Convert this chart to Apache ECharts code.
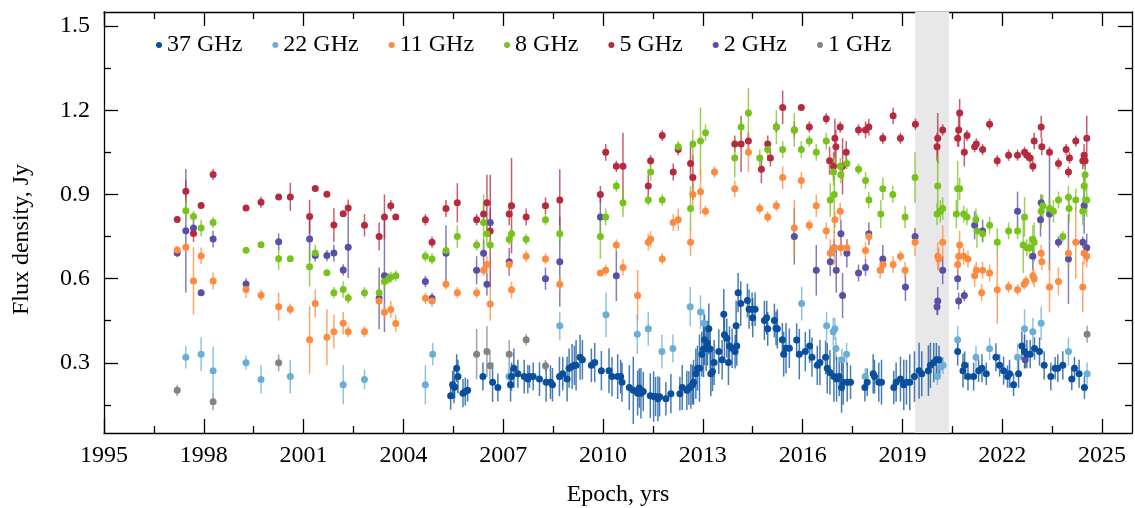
<!DOCTYPE html>
<html><head><meta charset="utf-8">
<script src="https://cdn.jsdelivr.net/npm/echarts@6/dist/echarts.min.js"></script>
<style>html,body{margin:0;padding:0;background:#fff}#c{width:1135px;height:508px}</style>
</head><body><div id="c"></div>
<script>
// ---------- ticks ----------
const xMajorTicks = [1995,1998,2001,2004,2007,2010,2013,2016,2019,2022,2025];
const xMinorTicks = [1996.5,1999.5,2002.5,2005.5,2008.5,2011.5,2014.5,2017.5,2020.5,2023.5];
const yMajorTicks = [0.3,0.6,0.9,1.2,1.5];
const yMinorTicks = [0.15,0.45,0.75,1.05,1.35];
const band = [2019.38, 2020.4];
const seriesNames = ['37 GHz','22 GHz','11 GHz','8 GHz','5 GHz','2 GHz','1 GHz'];

// ---------- data: [epoch, flux (Jy), error (Jy)] ----------
const f37 = [
[2005.42,0.183,0.05],[2005.48,0.222,0.05],[2005.52,0.216,0.06],[2005.54,0.213,0.04],[2005.60,0.281,0.05],[2005.64,0.251,0.06],
[2005.79,0.192,0.05],[2005.86,0.198,0.05],[2005.93,0.202,0.04],[2006.39,0.251,0.05],[2006.68,0.231,0.07],[2006.84,0.212,0.05],
[2007.22,0.222,0.06],[2007.25,0.251,0.05],[2007.32,0.281,0.07],[2007.44,0.261,0.05],[2007.63,0.251,0.06],[2007.74,0.242,0.05],
[2007.79,0.251,0.04],[2007.90,0.251,0.05],[2008.09,0.242,0.06],[2008.29,0.231,0.07],[2008.42,0.231,0.06],[2008.48,0.222,0.06],
[2008.69,0.251,0.07],[2008.79,0.261,0.06],[2008.92,0.242,0.08],[2008.98,0.281,0.07],[2009.07,0.287,0.08],[2009.14,0.291,0.07],
[2009.19,0.291,0.09],[2009.31,0.320,0.08],[2009.38,0.311,0.07],[2009.65,0.291,0.06],[2009.75,0.301,0.07],[2009.95,0.272,0.07],
[2010.18,0.272,0.08],[2010.27,0.251,0.07],[2010.44,0.251,0.08],[2010.53,0.251,0.06],[2010.57,0.231,0.07],[2010.79,0.212,0.08],
[2010.91,0.202,0.12],[2011.04,0.192,0.08],[2011.09,0.210,0.07],[2011.14,0.192,0.09],[2011.21,0.198,0.07],[2011.42,0.183,0.08],
[2011.52,0.180,0.09],[2011.58,0.180,0.07],[2011.65,0.172,0.08],[2011.70,0.179,0.07],[2011.89,0.172,0.06],[2012.04,0.190,0.07],
[2012.31,0.190,0.06],[2012.38,0.212,0.08],[2012.52,0.202,0.07],[2012.58,0.210,0.06],[2012.64,0.216,0.08],[2012.69,0.222,0.07],
[2012.72,0.231,0.08],[2012.79,0.261,0.09],[2012.84,0.281,0.08],[2012.90,0.281,0.12],[2012.97,0.331,0.08],[2013.02,0.349,0.10],
[2013.05,0.382,0.09],[2013.10,0.351,0.08],[2013.14,0.370,0.08],[2013.18,0.421,0.09],[2013.22,0.349,0.07],[2013.24,0.261,0.08],
[2013.29,0.269,0.07],[2013.34,0.301,0.08],[2013.48,0.340,0.08],[2013.58,0.311,0.07],[2013.63,0.473,0.09],[2013.65,0.400,0.08],
[2013.72,0.388,0.07],[2013.77,0.301,0.08],[2013.80,0.360,0.07],[2013.88,0.352,0.07],[2013.97,0.340,0.06],[2014.00,0.432,0.09],
[2014.02,0.360,0.07],[2014.06,0.550,0.07],[2014.14,0.511,0.08],[2014.34,0.522,0.06],[2014.39,0.491,0.07],[2014.48,0.491,0.06],
[2014.50,0.461,0.07],[2014.57,0.491,0.06],[2014.85,0.451,0.07],[2014.92,0.461,0.06],[2014.95,0.421,0.06],[2015.15,0.451,0.06],
[2015.20,0.423,0.06],[2015.24,0.421,0.07],[2015.39,0.382,0.06],[2015.43,0.331,0.08],[2015.50,0.352,0.09],[2015.60,0.352,0.07],
[2015.82,0.381,0.06],[2015.90,0.331,0.09],[2016.08,0.340,0.07],[2016.21,0.360,0.06],[2016.28,0.320,0.07],[2016.44,0.291,0.07],
[2016.52,0.301,0.08],[2016.69,0.320,0.06],[2016.74,0.281,0.09],[2016.82,0.266,0.08],[2016.94,0.251,0.09],[2017.02,0.242,0.08],
[2017.10,0.251,0.07],[2017.17,0.212,0.09],[2017.22,0.231,0.08],[2017.34,0.231,0.07],[2017.44,0.231,0.06],[2017.87,0.212,0.05],
[2017.94,0.231,0.05],[2018.12,0.261,0.07],[2018.16,0.251,0.06],[2018.29,0.231,0.07],[2018.37,0.231,0.08],[2018.74,0.212,0.06],
[2018.81,0.231,0.07],[2018.94,0.242,0.08],[2019.04,0.222,0.09],[2019.12,0.231,0.08],[2019.22,0.231,0.10],[2019.36,0.251,0.09],
[2019.50,0.272,0.10],[2019.58,0.261,0.08],[2019.78,0.272,0.09],[2019.84,0.291,0.08],[2019.94,0.301,0.07],[2020.02,0.311,0.06],
[2020.10,0.311,0.05],[2020.66,0.340,0.05],[2020.82,0.272,0.06],[2020.87,0.291,0.05],[2020.97,0.251,0.05],[2021.14,0.251,0.05],
[2021.29,0.272,0.04],[2021.39,0.281,0.05],[2021.52,0.261,0.04],[2021.81,0.320,0.05],[2021.92,0.291,0.04],[2022.04,0.272,0.05],
[2022.16,0.251,0.04],[2022.22,0.261,0.05],[2022.34,0.222,0.04],[2022.49,0.261,0.05],[2022.59,0.360,0.05],[2022.67,0.340,0.06],
[2022.74,0.331,0.05],[2022.84,0.331,0.05],[2022.97,0.351,0.04],[2023.12,0.340,0.05],[2023.26,0.291,0.05],[2023.46,0.251,0.05],
[2023.59,0.281,0.04],[2023.67,0.281,0.05],[2023.82,0.291,0.05],[2024.09,0.242,0.04],[2024.17,0.281,0.04],[2024.31,0.261,0.05],
[2024.47,0.212,0.04]
];
const f22 = [
[1997.46,0.320,0.04],[1997.92,0.331,0.06],[1998.28,0.272,0.085],[1999.27,0.300,0.025],[1999.72,0.241,0.05],[2000.60,0.251,0.06],
[2002.19,0.222,0.07],[2002.83,0.241,0.035],[2004.66,0.222,0.07],[2004.88,0.331,0.04],[2007.17,0.251,0.03],[2008.70,0.432,0.05],
[2010.09,0.471,0.08],[2011.03,0.402,0.07],[2011.36,0.421,0.06],[2011.77,0.340,0.06],[2012.10,0.351,0.05],[2012.62,0.500,0.07],
[2012.93,0.481,0.06],[2013.03,0.441,0.05],[2015.97,0.511,0.06],[2016.72,0.432,0.05],[2016.92,0.411,0.05],[2016.97,0.421,0.04],
[2017.00,0.351,0.04],[2017.18,0.310,0.04],[2017.32,0.331,0.04],[2017.88,0.251,0.03],[2020.05,0.251,0.03],[2020.14,0.285,0.03],
[2020.22,0.291,0.03],[2020.66,0.382,0.05],[2021.21,0.320,0.04],[2021.62,0.350,0.04],[2022.46,0.320,0.05],[2022.67,0.421,0.07],
[2022.92,0.411,0.05],[2023.17,0.441,0.06],[2023.99,0.340,0.05],[2024.55,0.261,0.04]
];
const f11 = [
[1997.20,0.702,0.015],[1997.46,0.712,0.02],[1997.69,0.592,0.12],[1997.92,0.681,0.03],[1998.28,0.592,0.03],[1999.27,0.561,0.03],
[1999.72,0.541,0.02],[2000.25,0.500,0.05],[2000.60,0.491,0.02],[2001.18,0.382,0.12],[2001.35,0.511,0.05],[2001.70,0.391,0.10],
[2001.91,0.411,0.06],[2002.19,0.441,0.04],[2002.34,0.411,0.02],[2002.83,0.411,0.02],[2003.27,0.520,0.03],[2003.43,0.480,0.03],
[2003.62,0.490,0.03],[2003.77,0.440,0.03],[2004.66,0.530,0.02],[2004.86,0.520,0.02],[2005.28,0.580,0.02],[2005.62,0.550,0.02],
[2006.20,0.550,0.02],[2006.41,0.630,0.02],[2006.51,0.650,0.03],[2006.61,0.510,0.06],[2007.18,0.650,0.03],[2007.25,0.560,0.03],
[2007.69,0.680,0.02],[2008.27,0.670,0.02],[2008.70,0.580,0.03],[2009.92,0.620,0.01],[2010.08,0.630,0.02],[2010.40,0.720,0.02],
[2010.60,0.640,0.03],[2011.04,0.540,0.09],[2011.36,0.730,0.03],[2011.43,0.740,0.03],[2011.78,0.670,0.02],[2012.11,0.800,0.03],
[2012.26,0.810,0.04],[2012.63,0.730,0.05],[2012.70,0.900,0.04],[2012.93,0.910,0.08],[2013.08,0.840,0.02],[2013.35,0.980,0.02],
[2013.96,0.920,0.03],[2014.37,1.050,0.07],[2014.71,0.850,0.02],[2014.95,0.820,0.02],[2015.21,0.860,0.02],[2015.40,0.960,0.04],
[2015.75,0.780,0.10],[2015.96,0.950,0.03],[2016.20,0.790,0.02],[2016.41,0.860,0.04],[2016.71,0.770,0.03],[2016.83,0.690,0.05],
[2016.95,0.710,0.06],[2016.97,0.810,0.03],[2017.13,0.840,0.03],[2017.15,0.710,0.03],[2017.33,0.710,0.03],[2017.89,0.700,0.03],
[2017.99,0.750,0.03],[2018.33,0.630,0.03],[2018.42,0.650,0.03],[2018.72,0.650,0.03],[2018.94,0.680,0.02],[2019.08,0.630,0.03],
[2019.38,0.730,0.05],[2020.06,0.680,0.05],[2020.09,0.670,0.04],[2020.21,0.730,0.06],[2020.66,0.650,0.04],[2020.69,0.680,0.04],
[2020.72,0.720,0.05],[2020.84,0.680,0.03],[2020.97,0.670,0.03],[2021.17,0.610,0.04],[2021.22,0.630,0.03],[2021.38,0.550,0.03],
[2021.41,0.630,0.03],[2021.62,0.620,0.03],[2021.85,0.560,0.12],[2022.19,0.570,0.02],[2022.46,0.560,0.02],[2022.66,0.580,0.02],
[2022.71,0.590,0.02],[2022.92,0.610,0.03],[2022.96,0.600,0.03],[2023.17,0.690,0.03],[2023.19,0.660,0.03],[2023.42,0.570,0.09],
[2023.69,0.590,0.05],[2023.99,0.690,0.05],[2024.21,0.730,0.13],[2024.42,0.570,0.09],[2024.46,0.690,0.04],[2024.54,0.680,0.04]
];
const f8 = [
[1997.46,0.842,0.04],[1997.69,0.821,0.02],[1997.92,0.780,0.03],[1998.28,0.800,0.02],[1999.27,0.701,0.01],[1999.72,0.721,0.01],
[2000.25,0.671,0.04],[2000.60,0.671,0.01],[2001.18,0.642,0.07],[2001.35,0.691,0.03],[2001.70,0.621,0.01],[2001.91,0.550,0.02],
[2002.19,0.561,0.03],[2002.34,0.531,0.02],[2002.83,0.550,0.02],[2003.27,0.550,0.02],[2003.43,0.590,0.03],[2003.55,0.600,0.02],
[2003.62,0.605,0.02],[2003.77,0.610,0.02],[2004.66,0.680,0.02],[2004.86,0.670,0.02],[2005.28,0.700,0.02],[2005.62,0.750,0.04],
[2006.20,0.720,0.02],[2006.41,0.800,0.10],[2006.51,0.760,0.04],[2006.61,0.720,0.02],[2007.18,0.740,0.02],[2007.25,0.760,0.02],
[2007.69,0.740,0.02],[2008.27,0.810,0.02],[2008.70,0.760,0.03],[2009.92,0.750,0.08],[2010.08,0.820,0.03],[2010.40,0.930,0.02],
[2010.60,0.870,0.05],[2011.36,0.880,0.02],[2011.43,0.980,0.03],[2011.78,0.880,0.02],[2012.26,1.070,0.02],[2012.63,0.850,0.08],
[2012.70,1.080,0.05],[2012.93,1.090,0.12],[2013.08,1.120,0.03],[2013.96,1.030,0.07],[2014.15,1.140,0.03],[2014.37,1.190,0.09],
[2014.71,1.030,0.03],[2014.95,1.060,0.04],[2015.21,1.140,0.06],[2015.40,1.060,0.03],[2015.75,1.130,0.06],[2015.96,1.060,0.03],
[2016.20,1.090,0.02],[2016.41,1.050,0.03],[2016.71,1.090,0.03],[2016.83,0.880,0.06],[2016.93,0.980,0.05],[2016.95,0.900,0.14],
[2017.13,1.000,0.03],[2017.15,0.970,0.03],[2017.33,1.010,0.02],[2017.68,0.990,0.02],[2017.89,0.950,0.03],[2017.99,0.880,0.03],
[2018.35,0.830,0.05],[2018.41,0.920,0.04],[2018.71,0.900,0.03],[2019.08,0.820,0.04],[2019.38,0.960,0.09],[2020.06,0.930,0.11],
[2020.04,0.830,0.04],[2020.14,0.840,0.04],[2020.21,0.850,0.04],[2020.66,0.920,0.10],[2020.72,0.920,0.04],[2020.62,0.830,0.05],
[2020.84,0.830,0.03],[2020.94,0.820,0.03],[2021.21,0.810,0.04],[2021.24,0.770,0.06],[2021.41,0.760,0.03],[2021.62,0.790,0.03],
[2021.85,0.730,0.05],[2022.19,0.770,0.03],[2022.46,0.770,0.03],[2022.67,0.820,0.07],[2022.63,0.720,0.10],[2022.74,0.710,0.03],
[2022.82,0.710,0.04],[2022.92,0.740,0.05],[2022.96,0.730,0.07],[2023.17,0.840,0.06],[2023.22,0.860,0.04],[2023.42,0.850,0.04],
[2023.54,0.840,0.04],[2023.69,0.880,0.03],[2023.82,0.750,0.02],[2023.99,0.890,0.04],[2024.01,0.850,0.05],[2024.21,0.880,0.04],
[2024.42,0.840,0.05],[2024.46,0.930,0.05],[2024.49,0.970,0.06],[2024.54,0.880,0.06]
];
const f5 = [
[1997.20,0.811,0.01],[1997.46,0.911,0.04],[1997.69,0.761,0.03],[1997.92,0.861,0.01],[1998.28,0.971,0.02],[1999.27,0.852,0.01],
[1999.72,0.872,0.02],[2000.25,0.891,0.01],[2000.60,0.891,0.05],[2001.18,0.821,0.06],[2001.35,0.921,0.01],[2001.70,0.901,0.01],
[2001.91,0.791,0.06],[2002.19,0.831,0.01],[2002.34,0.852,0.03],[2002.83,0.790,0.04],[2003.27,0.750,0.05],[2003.43,0.820,0.08],
[2003.62,0.860,0.02],[2003.77,0.820,0.01],[2004.66,0.810,0.02],[2004.86,0.730,0.02],[2005.28,0.850,0.03],[2005.62,0.870,0.07],
[2006.20,0.810,0.02],[2006.41,0.830,0.04],[2006.51,0.870,0.10],[2006.61,0.770,0.20],[2007.18,0.830,0.04],[2007.25,0.860,0.17],
[2007.69,0.820,0.03],[2008.27,0.860,0.03],[2008.70,0.880,0.11],[2009.92,0.900,0.03],[2010.08,1.050,0.03],[2010.40,1.000,0.02],
[2010.60,1.000,0.12],[2011.36,0.930,0.04],[2011.43,1.020,0.02],[2011.78,1.110,0.02],[2012.11,0.980,0.03],[2012.26,1.060,0.02],
[2012.63,1.010,0.06],[2012.70,0.960,0.08],[2013.96,1.080,0.03],[2014.15,1.080,0.10],[2014.37,1.090,0.03],[2014.76,0.990,0.05],
[2014.95,1.080,0.03],[2015.03,1.030,0.03],[2015.21,1.140,0.02],[2015.40,1.210,0.06],[2015.75,1.130,0.03],[2015.96,1.210,0.01],
[2016.20,1.140,0.02],[2016.71,1.170,0.02],[2016.81,1.020,0.05],[2016.93,1.000,0.05],[2016.97,1.100,0.07],[2017.00,1.070,0.06],
[2017.13,1.140,0.02],[2017.20,1.000,0.10],[2017.31,1.050,0.04],[2017.68,1.130,0.02],[2017.89,1.130,0.03],[2017.99,1.140,0.03],
[2018.41,1.100,0.02],[2018.72,1.180,0.03],[2018.94,1.100,0.02],[2019.39,1.150,0.02],[2020.06,1.100,0.09],[2020.04,1.070,0.05],
[2020.21,1.130,0.02],[2020.66,1.100,0.03],[2020.69,1.130,0.06],[2020.72,1.190,0.05],[2020.86,1.050,0.05],[2020.94,1.110,0.02],
[2021.17,1.070,0.02],[2021.22,1.080,0.02],[2021.41,1.060,0.02],[2021.62,1.150,0.02],[2021.85,1.020,0.02],[2022.19,1.040,0.02],
[2022.46,1.040,0.02],[2022.67,1.050,0.02],[2022.74,1.040,0.02],[2022.84,1.030,0.02],[2022.92,1.000,0.02],[2022.96,1.090,0.03],
[2023.17,1.140,0.04],[2023.19,1.070,0.03],[2023.42,1.050,0.02],[2023.69,1.010,0.02],[2023.92,1.060,0.02],[2023.99,0.980,0.02],
[2024.02,1.030,0.02],[2024.21,1.090,0.02],[2024.42,1.020,0.03],[2024.46,1.040,0.04],[2024.49,1.020,0.03],[2024.54,1.100,0.08]
];
const f2 = [
[1997.20,0.691,0.015],[1997.46,0.771,0.22],[1997.69,0.780,0.03],[1997.92,0.550,0.01],[1998.28,0.741,0.03],[1999.27,0.581,0.02],
[2000.25,0.731,0.03],[2001.18,0.741,0.08],[2001.35,0.682,0.02],[2001.70,0.682,0.02],[2001.91,0.691,0.03],[2002.19,0.631,0.02],
[2002.34,0.712,0.11],[2003.27,0.530,0.11],[2003.43,0.610,0.20],[2004.66,0.590,0.02],[2004.86,0.530,0.02],[2005.28,0.690,0.10],
[2006.20,0.630,0.05],[2006.41,0.690,0.05],[2006.51,0.580,0.04],[2006.61,0.800,0.05],[2007.18,0.660,0.05],[2008.27,0.600,0.04],
[2008.70,0.660,0.16],[2009.92,0.820,0.07],[2010.40,0.610,0.09],[2015.75,0.750,0.10],[2016.41,0.630,0.09],[2016.83,0.660,0.05],
[2016.95,0.710,0.03],[2017.01,0.630,0.08],[2017.15,0.760,0.05],[2017.20,0.540,0.08],[2017.33,0.690,0.05],[2017.68,0.620,0.03],
[2017.89,0.640,0.03],[2017.99,0.760,0.04],[2018.41,0.670,0.05],[2019.09,0.570,0.05],[2019.38,0.750,0.03],[2020.06,0.520,0.05],
[2020.04,0.500,0.03],[2020.21,0.630,0.05],[2020.66,0.600,0.04],[2020.69,0.520,0.03],[2020.86,0.540,0.02],[2021.17,0.790,0.05],
[2021.41,0.770,0.04],[2022.46,0.840,0.07],[2022.69,0.311,0.03],[2022.92,0.680,0.05],[2023.17,0.870,0.03],[2023.15,0.810,0.06],
[2023.42,0.830,0.20],[2023.69,0.730,0.02],[2023.99,0.670,0.16],[2024.42,0.730,0.02],[2024.46,0.860,0.10],[2024.54,0.710,0.05]
];
const f1 = [
[1997.20,0.202,0.02],[1998.28,0.161,0.03],[2000.25,0.300,0.03],[2006.20,0.331,0.09],[2006.51,0.340,0.09],[2006.60,0.290,0.05],
[2007.18,0.331,0.05],[2007.69,0.382,0.02],[2008.27,0.290,0.02],[2024.55,0.402,0.03]
];

// ---------- styling ----------
const allData = [f37, f22, f11, f8, f5, f2, f1];
const dotColors = ['#0a4f9e','#6aaed6','#fd8a3f','#78c21c','#b62a3e','#5750a6','#838383'];
const barColors = ['rgba(10,79,158,0.75)','rgba(106,174,214,0.75)','rgba(253,138,63,0.75)','rgba(120,194,28,0.75)','rgba(182,42,62,0.75)','rgba(87,80,166,0.75)','rgba(131,131,131,0.75)'];
const FONT = 'Liberation Serif';
const FS = 24;
const YMIN = 0.05, YMAX = 1.55, XMIN = 1995, XMAX = 2025.9;

function errItem(params, api) {
  const x = api.value(0), v = api.value(1), e = api.value(2);
  const p1 = api.coord([x, v - e]), p2 = api.coord([x, v + e]);
  return { type: 'line', shape: { x1: p1[0], y1: p1[1], x2: p2[0], y2: p2[1] },
           style: { stroke: api.visual('color'), lineWidth: 1.5 } };
}
function bandItem(params, api) {
  const a = api.coord([api.value(0), YMAX]), b = api.coord([api.value(1), YMIN]);
  return { type: 'rect', shape: { x: a[0], y: a[1], width: b[0] - a[0], height: b[1] - a[1] },
           style: { fill: '#e8e8e8' } };
}

const lineStyle = { color: '#000', width: 1.3 };
function xAx(pos, ticks, len, labels, line) {
  return {
    type: 'value', position: pos, min: XMIN, max: XMAX,
    axisLine: { show: line, onZero: false, lineStyle },
    axisTick: { show: true, inside: true, length: len, customValues: ticks, lineStyle },
    axisLabel: labels ? { show: true, customValues: ticks, fontFamily: FONT, fontSize: FS, color: '#000', margin: 11,
                          formatter: v => String(Math.round(v)) } : { show: false },
    splitLine: { show: false }
  };
}
function yAx(pos, ticks, len, labels, line) {
  return {
    type: 'value', position: pos, min: YMIN, max: YMAX,
    axisLine: { show: line, onZero: false, lineStyle },
    axisTick: { show: true, inside: true, length: len, customValues: ticks, lineStyle },
    axisLabel: labels ? { show: true, customValues: ticks, fontFamily: FONT, fontSize: FS, color: '#000', margin: 14,
                          formatter: v => v.toFixed(1) } : { show: false },
    splitLine: { show: false }
  };
}
const xAxes = [xAx('bottom', xMajorTicks, 14, true, true), xAx('bottom', xMinorTicks, 7, false, false),
               xAx('top', xMajorTicks, 14, false, true), xAx('top', xMinorTicks, 7, false, false)];
xAxes[0].name = 'Epoch, yrs';
xAxes[0].nameLocation = 'middle';
xAxes[0].nameGap = 50;
xAxes[0].nameTextStyle = { fontFamily: FONT, fontSize: FS, color: '#000' };
const yAxes = [yAx('left', yMajorTicks, 14, true, true), yAx('left', yMinorTicks, 7, false, false),
               yAx('right', yMajorTicks, 14, false, true), yAx('right', yMinorTicks, 7, false, false)];
yAxes[0].name = 'Flux density, Jy';
yAxes[0].nameLocation = 'middle';
yAxes[0].nameGap = 70;
yAxes[0].nameTextStyle = { fontFamily: FONT, fontSize: FS, color: '#000', padding: [0, 34, 0, 0] };

const series = [{
  type: 'custom', name: 'band', renderItem: bandItem, data: [[band[0], band[1], 0.8]],
  encode: { x: [0, 1], y: 2 }, z: 1, silent: true
}];
for (let i = allData.length - 1; i >= 0; i--) {
  series.push({ type: 'custom', name: seriesNames[i] + ' err', renderItem: errItem, data: allData[i],
                encode: { x: 0, y: 1 }, itemStyle: { color: barColors[i] }, clip: true, z: 2, silent: true });
}
for (let i = allData.length - 1; i >= 0; i--) {
  series.push({ type: 'scatter', name: seriesNames[i], data: allData[i].map(d => [d[0], d[1]]),
                symbol: 'circle', symbolSize: 7, itemStyle: { color: dotColors[i], opacity: 1 }, z: 3 + (allData.length - i), clip: true });
}

const chart = echarts.init(document.getElementById('c'), null, { renderer: 'canvas' });
chart.setOption({
  animation: false,
  backgroundColor: '#fff',
  grid: { left: 104, right: 3, top: 12, bottom: 75, containLabel: false, outerBoundsMode: 'none' },
  legend: {
    data: seriesNames, left: 151, top: 28, icon: 'circle', itemWidth: 6, itemHeight: 6, itemGap: 30,
    textStyle: { fontFamily: FONT, fontSize: FS, color: '#000' }, selectedMode: false
  },
  xAxis: xAxes,
  yAxis: yAxes,
  series: series
});
</script></body></html>
